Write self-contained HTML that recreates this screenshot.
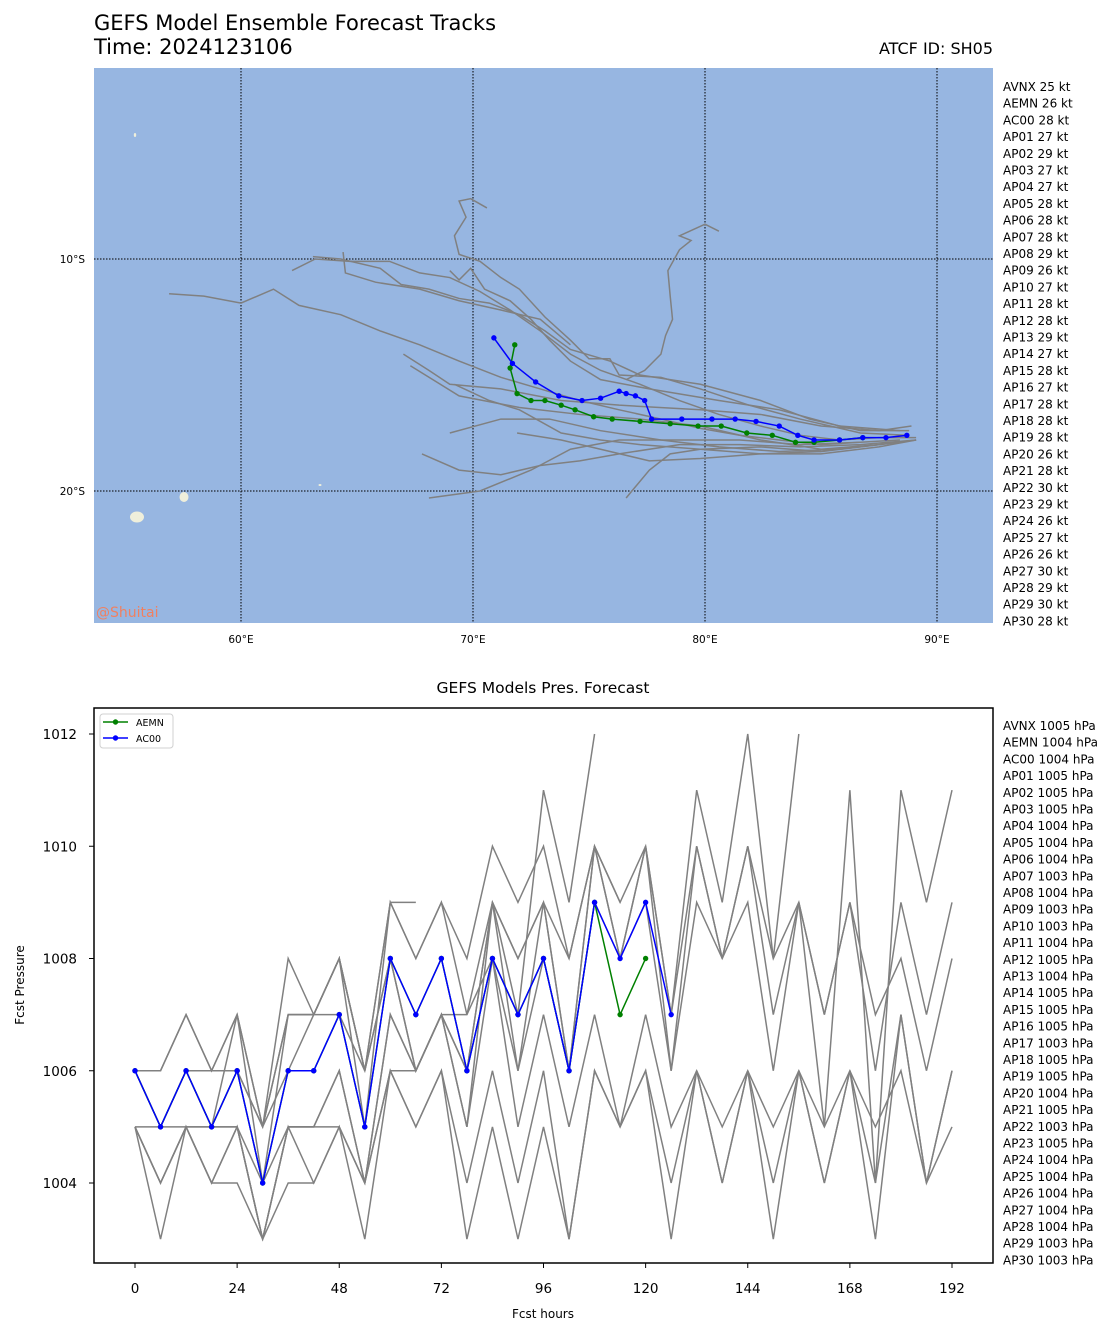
<!DOCTYPE html>
<html><head><meta charset="utf-8">
<style>
body{margin:0;background:#fff;}
svg{display:block;font-family:"DejaVu Sans","Liberation Sans",sans-serif;}
</style></head>
<body>
<svg id="fig" width="1116" height="1335" xmlns="http://www.w3.org/2000/svg">
<rect width="1116" height="1335" fill="#fff"/>
<text x="94" y="30" font-size="21" fill="#000">GEFS Model Ensemble Forecast Tracks</text>
<text x="94" y="54" font-size="21" fill="#000">Time: 2024123106</text>
<text x="993" y="54" font-size="16" text-anchor="end" fill="#000">ATCF ID: SH05</text>
<g id="map"></g>
<g id="pres"></g>
</svg>
<script>
const NS="http://www.w3.org/2000/svg";
function mk(p,tag,attrs,txt){const e=document.createElementNS(NS,tag);for(const k in attrs)e.setAttribute(k,attrs[k]);if(txt!==undefined)e.textContent=txt;p.appendChild(e);return e;}

// ---------- MAP DATA ----------
const lonTicks=[60,70,80,90];
const latTicks=[10,20];
const ac00Lon=[70.9,71.7,72.7,73.7,74.7,75.5,76.3,76.6,77.0,77.4,77.7,79.0,80.3,81.3,82.2,83.2,84.0,84.7,85.8,86.8,87.8,88.7];
const ac00Lat=[13.4,14.5,15.3,15.9,16.1,16.0,15.7,15.8,15.9,16.1,16.9,16.9,16.9,16.9,17.0,17.2,17.6,17.8,17.8,17.7,17.7,17.6];
const aemnLon=[71.8,71.6,71.9,72.5,73.1,73.8,74.4,75.2,76.0,77.2,78.5,79.7,80.7,81.8,82.9,83.9,84.7,85.8,86.8];
const aemnLat=[13.7,14.7,15.8,16.1,16.1,16.3,16.5,16.8,16.9,17.0,17.1,17.2,17.2,17.5,17.6,17.9,17.9,17.8,17.7];
const memberLons=[
[56.9,58.4,60.0,61.4,62.5,64.3,66.0,67.7,69.4,71.2,72.9,74.6,76.3,78.1,79.8,81.5,83.2,85.0,86.7,88.4],
[62.2,63.2,64.7,66.4,67.7,69.0,70.3,71.6,72.9,74.2,75.5,77.2,78.9,80.6,82.4,84.1,85.8,87.5,89.1],
[63.1,64.3,66.0,66.9,68.1,69.4,70.7,72.0,73.1,74.2,75.9,77.2,79.8,82.4,84.5,86.7,88.8],
[70.6,69.9,69.4,69.7,69.2,69.4,70.3,71.2,72.0,73.1,74.2,75.0,75.9,76.3,78.1,79.8,81.9,84.1,86.7,88.8],
[76.6,77.4,78.1,78.3,78.6,78.5,78.4,78.9,79.4,78.9,80.0,80.6],
[64.4,64.5,65.8,67.7,69.4,71.2,72.9,74.2],
[67.0,68.1,69.0,71.2,73.8,76.3,79.8,82.4,85.0,87.5,88.9],
[67.3,69.4,72.0,74.6,77.2,79.8,82.4,85.0,87.5,89.1],
[67.8,69.4,71.2,72.9,74.6,76.3,78.9,81.5,84.1,86.7,89.1],
[68.1,70.3,72.5,74.2,76.3,78.9,81.5,84.1,86.7],
[69.0,71.2,73.3,75.5,78.1,80.6,83.2,85.8,88.4],
[76.6,77.6,78.5,79.8,82.4,85.0,87.5],
[69.2,70.7,72.0,73.8,75.5,77.2,79.8,82.4,85.0,87.5,89.1],
[71.9,73.8,75.5,77.6,79.8,82.4,85.0],
[69.0,69.4,69.9,70.5,71.6,72.5,73.3,74.2,75.5,77.6,80.6,83.2,85.8,88.4]];
const memberLats=[
[11.5,11.6,11.9,11.3,12.0,12.4,13.1,13.7,14.4,15.1,15.6,16.1,16.5,16.9,17.3,17.6,17.8,18.0,17.9,17.8],
[10.5,10.0,10.1,10.1,10.6,10.8,11.4,12.2,13.1,14.1,14.8,15.4,16.1,16.7,17.2,17.6,17.8,17.7,17.7],
[9.9,10.0,10.4,11.1,11.3,11.7,11.9,12.4,13.1,13.9,14.4,15.0,15.4,16.1,16.9,17.4,17.4],
[7.8,7.4,7.5,8.2,9.0,9.8,10.1,10.8,11.3,12.5,13.5,14.3,14.3,15.0,15.1,15.6,16.3,16.9,17.5,17.6],
[15.2,14.8,14.1,13.3,12.6,11.6,10.5,9.6,9.2,9.0,8.5,8.8],
[9.7,10.6,11.0,11.3,11.8,12.2,12.6,13.7],
[14.1,14.8,15.4,15.6,16.1,16.3,16.5,16.7,17.2,17.4,17.2],
[14.6,15.9,16.4,16.7,16.9,17.2,17.8,18.2,18.0,17.8],
[18.4,19.1,19.3,18.9,18.7,18.4,18.0,18.0,18.1,18.0,17.8],
[20.3,20.0,19.1,18.2,17.8,17.8,17.8,18.0,17.9],
[17.5,16.9,16.9,17.4,17.8,18.1,18.3,18.2,17.9],
[20.3,19.1,18.4,18.2,18.1,18.3,18.0],
[15.4,16.1,16.5,17.5,17.8,18.0,18.2,18.4,18.4,18.1,17.8],
[17.5,17.8,18.2,18.7,18.6,18.4,18.3],
[10.5,10.9,10.4,11.3,11.8,12.6,13.5,14.4,15.2,15.6,16.1,16.5,17.2,17.4]];
const mapLabels=["AVNX 25 kt","AEMN 26 kt","AC00 28 kt","AP01 27 kt","AP02 29 kt","AP03 27 kt","AP04 27 kt","AP05 28 kt","AP06 28 kt","AP07 28 kt","AP08 29 kt","AP09 26 kt","AP10 27 kt","AP11 28 kt","AP12 28 kt","AP13 29 kt","AP14 27 kt","AP15 28 kt","AP16 27 kt","AP17 28 kt","AP18 28 kt","AP19 28 kt","AP20 26 kt","AP21 28 kt","AP22 30 kt","AP23 29 kt","AP24 26 kt","AP25 27 kt","AP26 26 kt","AP27 30 kt","AP28 29 kt","AP29 30 kt","AP30 28 kt"];

// ---------- PRESSURE DATA ----------
const hourTicks=[0,24,48,72,96,120,144,168,192];
const presTicks=[1004,1006,1008,1010,1012];
const ac00Pres=[1006,1005,1006,1005,1006,1004,1006,1006,1007,1005,1008,1007,1008,1006,1008,1007,1008,1006,1009,1008,1009,1007];
const aemnPres=[1006,1005,1006,1005,1006,1004,1006,1006,1007,1005,1008,1007,1008,1006,1008,1007,1008,1006,1009,1007,1008];
const memberPres=[
[1006,1006,1007,1006,1007,1005,1007,1007,1008,1006,1009,1008,1009,1008,1010,1009,1010,1008,1010,1009,1010,1007,1010,1008,1010,1008,1009,1007,1009,1006,1009,1007,1009],
[1006,1006,1007,1006,1007,1005,1008,1007,1008,1006,1009,1009],
[1005,1005,1005,1005,1005,1003,1005,1005,1005,1004,1007,1006,1007,1006,1009,1008,1009,1008,1010,1008,1010,1007,1011,1009,1012,1008,1012],
[1005,1004,1005,1004,1005,1003,1005,1005,1006,1004,1006,1006,1007,1005,1009,1007,1011,1009,1012],
[1006,1005,1006,1006,1006,1005,1007,1007,1008,1006,1008,1006,1007,1006,1009,1006,1009,1006,1010,1009],
[1005,1004,1005,1004,1004,1003,1005,1004,1005,1004,1006,1005,1006,1003,1005,1003,1005,1003,1006,1005,1006,1003,1006,1004,1006,1003,1006,1004,1006,1003,1007,1004,1005],
[1005,1003,1005,1004,1005,1003,1004,1004,1005,1003,1006,1005,1006,1004,1006,1004,1006,1003,1006,1005,1006,1004,1006,1004,1006,1004,1006,1004,1006,1004,1007,1004,1006],
[1006,1005,1006,1005,1006,1005,1006,1007,1007,1006,1008,1006,1007,1007,1008,1005,1007,1005,1007,1005,1007,1005,1006,1005,1006,1005,1006,1005,1006,1005,1006,1004,1006],
[1005,1004,1005,1005,1005,1004,1005,1005,1006,1004,1007,1006,1007,1005,1008,1006,1008,1006,1009,1008,1009,1006,1009,1008,1009,1006,1009,1007,1009,1007,1008,1006,1008],
[1006,1005,1006,1005,1007,1004,1007,1007,1008,1005,1009,1008,1009,1007,1009,1008,1009,1006,1010,1008,1010,1006,1010,1008,1010,1007,1009,1005,1011,1004,1011,1009,1011]];
const presLabels=["AVNX 1005 hPa","AEMN 1004 hPa","AC00 1004 hPa","AP01 1005 hPa","AP02 1005 hPa","AP03 1005 hPa","AP04 1004 hPa","AP05 1004 hPa","AP06 1004 hPa","AP07 1003 hPa","AP08 1004 hPa","AP09 1003 hPa","AP10 1003 hPa","AP11 1004 hPa","AP12 1005 hPa","AP13 1004 hPa","AP14 1005 hPa","AP15 1005 hPa","AP16 1005 hPa","AP17 1003 hPa","AP18 1005 hPa","AP19 1005 hPa","AP20 1004 hPa","AP21 1005 hPa","AP22 1003 hPa","AP23 1005 hPa","AP24 1004 hPa","AP25 1004 hPa","AP26 1004 hPa","AP27 1004 hPa","AP28 1004 hPa","AP29 1003 hPa","AP30 1003 hPa"];

// ---------- MAP ----------
const map=document.getElementById('map');
const MX0=94,MX1=993,MY0=68,MY1=623;
const lonX=lon=>241+(lon-60)*23.2;
const latY=lat=>259+(lat-10)*23.2;
let r=mk(map,'rect',{x:MX0,y:MY0,width:MX1-MX0,height:MY1-MY0,fill:'#97b6e1'});

[[137,517,7,5.5],[184,497,4.5,5],[135,135,1.2,2],[320,485,1.5,1]].forEach(a=>{
  const e=mk(map,'ellipse',{cx:a[0],cy:a[1],rx:a[2],ry:a[3],fill:'#efefdb'});
  
  
});
lonTicks.forEach(l=>{const x=lonX(l);
  const g=mk(map,'line',{x1:x,y1:MY0,x2:x,y2:MY1,stroke:'#000','stroke-width':1,'stroke-dasharray':'1.5,1.5'});
  
  const t=mk(map,'text',{x:x,y:643,'font-size':10.5,'text-anchor':'middle'},l+'°E');
  
});
latTicks.forEach(l=>{const y=latY(l);
  const g=mk(map,'line',{x1:MX0,y1:y,x2:MX1,y2:y,stroke:'#000','stroke-width':1,'stroke-dasharray':'1.5,1.5'});
  
  const t=mk(map,'text',{x:85,y:y+4,'font-size':10.5,'text-anchor':'end'},l+'°S');
  
});
memberLons.forEach((lons,i)=>{
  const pts=lons.map((l,j)=>lonX(l)+','+latY(memberLats[i][j])).join(' ');
  const p=mk(map,'polyline',{points:pts,fill:'none',stroke:'#808080','stroke-width':1.5});
  
});
function track(lons,lats,col,name){
  const p=mk(map,'polyline',{points:lons.map((l,j)=>lonX(l)+','+latY(lats[j])).join(' '),fill:'none',stroke:col,'stroke-width':1.5});
  
  lons.forEach((l,j)=>{const c=mk(map,'circle',{cx:lonX(l),cy:latY(lats[j]),r:2.7,fill:col});
    });
}
track(aemnLon,aemnLat,'#008000','aemn');
track(ac00Lon,ac00Lat,'#0000ff','ac00');
let wm=mk(map,'text',{x:96,y:617,'font-size':14,fill:'#f08060'},'@Shuitai');

mapLabels.forEach((s,i)=>{const t=mk(map,'text',{x:1003,y:91+i*16.7,'font-size':12},s);
  });

// ---------- PRESSURE ----------
const pr=document.getElementById('pres');
const PX0=94,PX1=993,PY0=708,PY1=1263;
const hx=h=>135+h*(817/192);
const py=p=>1183-(p-1004)*56.125;
let tt=mk(pr,'text',{x:543,y:693,'font-size':15.5,'text-anchor':'middle'},'GEFS Models Pres. Forecast');

memberPres.forEach(s=>{
  const p=mk(pr,'polyline',{points:s.map((v,j)=>hx(j*6)+','+py(v)).join(' '),fill:'none',stroke:'#808080','stroke-width':1.5});
  
});
function pline(s,col,name){
  const p=mk(pr,'polyline',{points:s.map((v,j)=>hx(j*6)+','+py(v)).join(' '),fill:'none',stroke:col,'stroke-width':1.5});
  
  s.forEach((v,j)=>{const c=mk(pr,'circle',{cx:hx(j*6),cy:py(v),r:2.7,fill:col});
    });
}
pline(aemnPres,'#008000','aemn');
pline(ac00Pres,'#0000ff','ac00');
let fr=mk(pr,'rect',{x:PX0,y:PY0,width:PX1-PX0,height:PY1-PY0,fill:'none',stroke:'#000','stroke-width':1.5});

hourTicks.forEach(h=>{const x=hx(h);
  const l=mk(pr,'line',{x1:x,y1:PY1,x2:x,y2:PY1+5,stroke:'#000'});
  
  const t=mk(pr,'text',{x:x,y:1293,'font-size':13.5,'text-anchor':'middle'},h);
  });
presTicks.forEach(p=>{const y=py(p);
  const l=mk(pr,'line',{x1:PX0-5,y1:y,x2:PX0,y2:y,stroke:'#000'});
  
  const t=mk(pr,'text',{x:77,y:y+5,'font-size':13.5,'text-anchor':'end'},p);
  });
let xt=mk(pr,'text',{x:543,y:1318,'font-size':12,'text-anchor':'middle'},'Fcst hours');

let yt=mk(pr,'text',{x:24,y:985,'font-size':12,'text-anchor':'middle',transform:'rotate(-90 24 985)'},'Fcst Pressure');

// legend
let lg=mk(pr,'g',{});

mk(lg,'rect',{x:100,y:714,width:73,height:34,rx:3,fill:'#fff',stroke:'#d0d0d0','stroke-width':1});
[['AEMN','#008000',722],['AC00','#0000ff',738]].forEach(a=>{
  const e=mk(lg,'g',{});
  
  mk(e,'line',{x1:103,y1:a[2],x2:128,y2:a[2],stroke:a[1],'stroke-width':1.5});
  mk(e,'circle',{cx:115.5,cy:a[2],r:2.7,fill:a[1]});
  mk(e,'text',{x:136,y:a[2]+4,'font-size':9.5},a[0]);
});
presLabels.forEach((s,i)=>{const t=mk(pr,'text',{x:1003,y:730+i*16.7,'font-size':12},s);
  });
</script>
</body></html>
